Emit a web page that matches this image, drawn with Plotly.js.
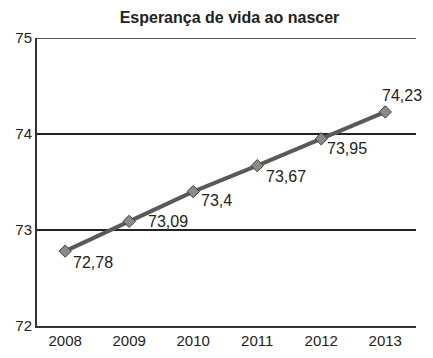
<!DOCTYPE html>
<html><head><meta charset="utf-8">
<script src="https://cdn.plot.ly/plotly-3.0.1.min.js"></script>
<style>html,body{margin:0;padding:0;background:#fff;}</style>
</head><body>
<div id="chart" style="width:433px;height:358px;"></div>
<script>
var years = ['2008','2009','2010','2011','2012','2013'];
var values = [72.78, 73.09, 73.4, 73.67, 73.95, 74.23];
var yTicks = [72, 73, 74, 75];

// label placement (style): pixel offset of label's left edge / vertical centre from the marker
var labelOffsets = [[6, 11], [17, 0], [6, 9], [7, 11], [4, 10], [-5, -16]];

var labels = values.map(function(v){ return String(v).replace('.', ','); });
var FONT = 'Liberation Sans, Arial, sans-serif';

var trace = {
  x: years, y: values, type: 'scatter', mode: 'lines+markers',
  line: {color: '#595959', width: 4},
  marker: {symbol: 'diamond', size: 9.5, color: '#8a8a8a', line: {color: '#404040', width: 1}},
  cliponaxis: false, hoverinfo: 'none'
};

var annotations = years.map(function(yr, i){
  return {x: i, y: values[i], xref: 'x', yref: 'y', text: labels[i], showarrow: false,
          xanchor: 'left', yanchor: 'middle', xshift: labelOffsets[i][0], yshift: -labelOffsets[i][1],
          font: {family: FONT, size: 16, color: '#222'}};
});

var layout = {
  width: 433, height: 358,
  margin: {l: 37, r: 17, t: 38, b: 32},
  paper_bgcolor: '#fff', plot_bgcolor: '#fff',
  showlegend: false,
  font: {family: FONT, size: 15, color: '#222'},
  title: {text: '<b>Esperança de vida ao nascer</b>', x: 0.53, xanchor: 'center', y: 0.952, yanchor: 'middle',
          font: {family: FONT, size: 16, color: '#222'}},
  xaxis: {type: 'category', categoryarray: years, range: [-0.44, 5.48], showgrid: false, zeroline: false,
          showline: true, linecolor: '#333', linewidth: 2, ticks: '', ticklen: 0,
          tickfont: {size: 15, color: '#222'}},
  yaxis: {range: [72, 75], tickvals: yTicks, ticktext: yTicks.map(String),
          showgrid: true, gridcolor: '#222', gridwidth: 1.2, zeroline: false,
          showline: true, linecolor: '#333', linewidth: 2, ticks: '', ticklen: 0,
          tickfont: {size: 15, color: '#222'}, ticklabelstandoff: 0},
  shapes: [{type: 'line', xref: 'paper', yref: 'y', x0: 0, x1: 1, y0: 75, y1: 75,
            line: {color: '#222', width: 1.5}}],
  annotations: annotations
};

Plotly.newPlot('chart', [trace], layout, {displayModeBar: false, staticPlot: true});
</script>
</body></html>
